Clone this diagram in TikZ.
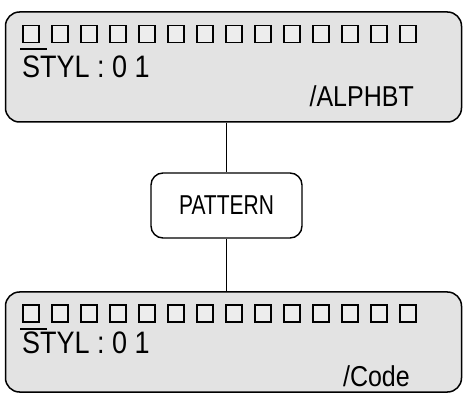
\documentclass[tikz,border=0pt]{standalone}
\usepackage{fontspec}
\usepackage{graphicx}
\setmainfont{Liberation Sans}
\usetikzlibrary{positioning}
\newcommand{\haute}[1]{\scalebox{1}[1.15]{#1}}
\begin{document}
\begin{tikzpicture}[
    x=1pt, y=-1pt,  % un point par pixel, y vers le bas
    ecran/.style={draw, line width=1.5pt, rounded corners=14pt, fill=black!11,
        minimum width=456pt, inner sep=0pt},
    case/.style={draw, line width=1.1pt, fill=black!7, minimum width=16pt,
        minimum height=17pt, inner sep=0pt},
    curseur/.style={draw, line width=2pt},
    texte/.style={font=\fontsize{27}{30}\selectfont, inner sep=0pt},
    petit/.style={font=\fontsize{25}{28}\selectfont, inner sep=0pt},
    boite/.style={draw, line width=1.4pt, rounded corners=12pt, fill=white,
        minimum width=151pt, minimum height=65pt, font=\fontsize{21}{26}\selectfont},
    lien/.style={draw, line width=1.2pt}
]
\useasboundingbox (0,0) rectangle (464,393);
% Ecran du haut
\node[ecran, minimum height=110pt] (haut) at (233.5,67) {};
\foreach \i in {0,...,13}
    \node[case] (h\i) at (31+29*\i,34) {};
\coordinate (hsa) at (20,49);
\coordinate (hsb) at (47,49);
\draw[curseur] (hsa) -- (hsb);
\node[texte, anchor=base west] (hstyl) at (22,78) {\haute{STYL : 0 1}};
\node[petit, anchor=base east] (hmode) at (414,107) {\haute{/ALPHBT}};
% Boite centrale
\node[boite] (pattern) at (226.5,205.5) {\scalebox{1}[1.3]{PATTERN}};
% Ecran du bas
\node[ecran, minimum height=100pt] (bas) at (233.5,342) {};
\foreach \i in {0,...,13}
    \node[case] (b\i) at (31+29*\i,313.5) {};
\coordinate (bsa) at (20,329);
\coordinate (bsb) at (47,329);
\draw[curseur] (bsa) -- (bsb);
\node[texte, anchor=base west] (bstyl) at (22,353) {\haute{STYL : 0 1}};
\node[petit, anchor=base east] (bmode) at (410,387) {\haute{/Code}};
% Liaisons
\draw[lien] (haut.south -| pattern.north) -- (pattern.north);
\draw[lien] (pattern.south) -- (bas.north -| pattern.south);
\end{tikzpicture}
\end{document}
